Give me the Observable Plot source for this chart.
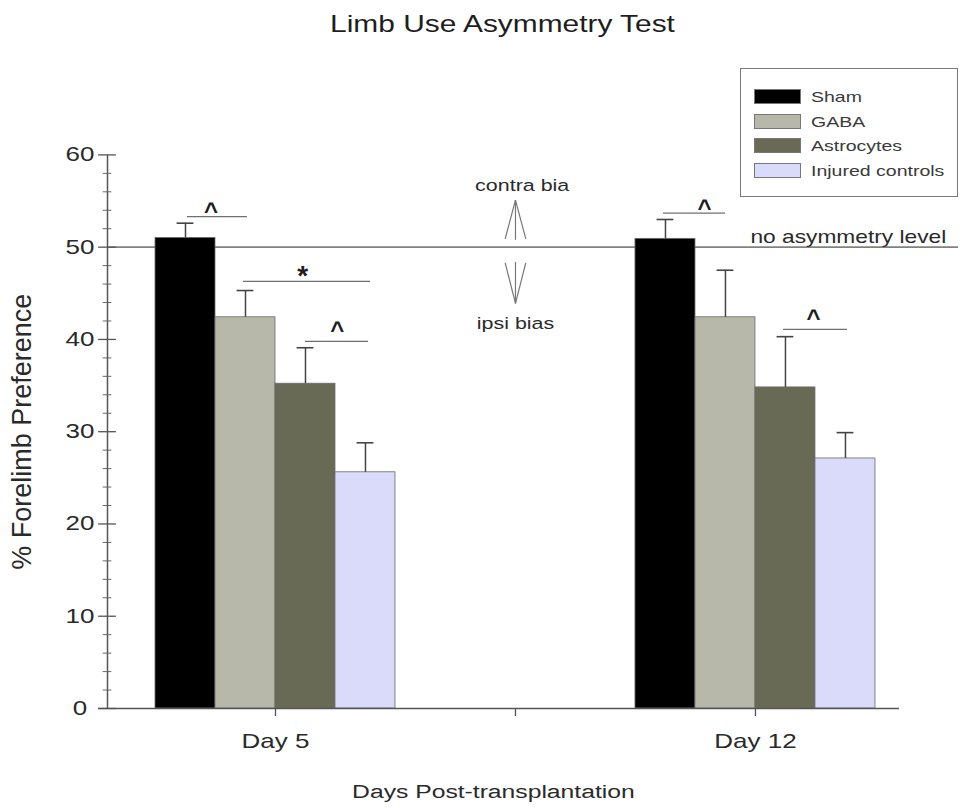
<!DOCTYPE html>
<html><head><meta charset="utf-8">
<script src="https://cdn.jsdelivr.net/npm/d3@7"></script>
<script src="https://cdn.jsdelivr.net/npm/@observablehq/plot@0.6"></script>
<style>
body{margin:0;background:#fff;font-family:"Liberation Sans",Arial,sans-serif;}
#wrap{position:relative;width:961px;height:808px;overflow:hidden;background:#fff}
#legend{position:absolute;left:740px;top:68px;width:218px;height:129px;border:1px solid #7a7a7a;box-sizing:border-box;background:#fff}
.sw{position:absolute;left:13px;width:47px;height:15px;box-sizing:border-box;border:1px solid #777}
.lt{position:absolute;left:70px;font-size:15px;color:#3a3a3a;transform-origin:left center;transform:scaleX(1.3);white-space:nowrap;line-height:15px;height:15px}
</style></head><body><div id="wrap"></div>
<script>
// ---- data ----
const titleText = "Limb Use Asymmetry Test";
const yLabel = "% Forelimb Preference";
const xLabel = "Days Post-transplantation";
const groups = ["Day 5", "Day 12"];
const groupPos = [1, 3];
const series = ["Sham", "GABA", "Astrocytes", "Injured controls"];
const colors = ["#000000", "#b7b7aa", "#696a55", "#dadafa"];
const day5Mean = [51.0, 42.4, 35.2, 25.6];
const day5Err = [1.6, 2.9, 3.9, 3.2];
const day12Mean = [50.9, 42.4, 34.8, 27.1];
const day12Err = [2.1, 5.1, 5.5, 2.8];
const yTicks = [0, 10, 20, 30, 40, 50, 60];
const yMinor = [2, 4, 6, 8, 12, 14, 16, 18, 22, 24, 26, 28, 32, 34, 36, 38, 42, 44, 46, 48, 52, 54, 56, 58];
const xTicks = [1, 2, 3];
const xTickLabels = ["Day 5", "", "Day 12"];
const refLevel = [50];
const refText = ["no asymmetry level"];
const sigLines = [
  {x1: 0.633, x2: 0.883, y: 53.3},
  {x1: 0.867, x2: 1.396, y: 46.3},
  {x1: 1.125, x2: 1.388, y: 39.8},
  {x1: 2.617, x2: 2.875, y: 53.7},
  {x1: 3.117, x2: 3.383, y: 41.1}
];
const sigMarks = [
  {x: 0.731, y: 54.4, t: "^"},
  {x: 1.113, y: 47.6, t: "*"},
  {x: 1.257, y: 41.5, t: "^"},
  {x: 2.788, y: 54.7, t: "^"},
  {x: 3.242, y: 42.8, t: "^"}
];
const biasLabels = [
  {x: 2.028, y: 56.1, t: "contra bia"},
  {x: 2.0, y: 41.15, t: "ipsi bias"}
];
const arrowLinks = [
  {x1: 2.0, y1: 50.8, x2: 2.0, y2: 55.1},
  {x1: 1.957, y1: 50.9, x2: 2.0, y2: 55.1},
  {x1: 2.043, y1: 50.9, x2: 2.0, y2: 55.1},
  {x1: 2.0, y1: 48.4, x2: 2.0, y2: 43.9},
  {x1: 1.957, y1: 48.3, x2: 2.0, y2: 43.9},
  {x1: 2.043, y1: 48.3, x2: 2.0, y2: 43.9}
];

// ---- layout constants ----
const barW = 0.25;
const capHalf = 0.035;
const xStart = 0.3, xAxisEnd = 3.6, xEnd = 3.846;
const majorTick = 0.037, minorTick = 0.018;
const xTickLen = 0.87;
const S = 1.3; // horizontal stretch of text, as in reference

const bars = [];
groups.forEach((g, gi) => {
  const means = gi === 0 ? day5Mean : day12Mean;
  const errs = gi === 0 ? day5Err : day12Err;
  series.forEach((s, si) => {
    const x1 = groupPos[gi] - 2 * barW + si * barW;
    bars.push({group: g, series: s, x1, x2: x1 + barW, center: x1 + barW / 2,
      mean: means[si], top: means[si] + errs[si]});
  });
});

const font = "Liberation Sans, Arial, Helvetica, sans-serif";
const chart = Plot.plot({
  width: 961, height: 808,
  marginTop: 154.4, marginBottom: 100, marginLeft: 107, marginRight: 3,
  x: {type: "linear", domain: [xStart, xEnd], axis: null},
  y: {domain: [0, 60], axis: null},
  color: {domain: series, range: colors},
  style: {fontFamily: font, background: "white", overflow: "visible"},
  marks: [
    Plot.ruleY(refLevel, {stroke: "#808080", strokeWidth: 1.8}),
    Plot.rect(bars, {x1: "x1", x2: "x2", y1: 0, y2: "mean", fill: "series", stroke: "#6a6a6a", strokeWidth: 0.8}),
    Plot.ruleX(bars, {x: "center", y1: "mean", y2: "top", stroke: "#444", strokeWidth: 1.5}),
    Plot.ruleY(bars, {y: "top", x1: d => d.center - capHalf, x2: d => d.center + capHalf, stroke: "#444", strokeWidth: 1.6}),
    // axes
    Plot.ruleX([xStart], {y1: 0, y2: 60, stroke: "#555", strokeWidth: 1.5}),
    Plot.ruleY([0], {x1: xStart - majorTick, x2: xAxisEnd, stroke: "#555", strokeWidth: 1.5}),
    Plot.ruleY(yTicks, {x1: xStart - majorTick, x2: xStart + majorTick, stroke: "#555", strokeWidth: 1.3}),
    Plot.ruleY(yMinor, {x1: xStart - minorTick, x2: xStart + minorTick, stroke: "#666", strokeWidth: 1}),
    Plot.ruleX(xTicks, {y1: 0, y2: -xTickLen, stroke: "#555", strokeWidth: 1.3}),
    Plot.text(yTicks, {x: xStart, y: d => d, text: d => String(d), dx: -27.5, fontSize: 20, fill: "#2a2a2a", textAnchor: "middle"}),
    Plot.text(xTicks, {x: d => d, y: 0, text: (d, i) => xTickLabels[i], dy: 25, lineAnchor: "top", fontSize: 20, fill: "#2a2a2a", textAnchor: "middle"}),
    Plot.text([xLabel], {x: 1.908, y: 0, text: d => d, dy: 83, fontSize: 19, fill: "#2a2a2a", textAnchor: "middle"}),
    Plot.text([yLabel], {frameAnchor: "left", text: d => d, dx: -85, rotate: -90, fontSize: 27, fill: "#2a2a2a", textAnchor: "middle"}),
    Plot.text([titleText], {x: 1.946, y: 60, text: d => d, dy: -123, lineAnchor: "bottom", fontSize: 23, fill: "#1e1e1e", textAnchor: "middle"}),
    // annotations
    Plot.text(refText, {x: 2.979, y: refLevel[0], text: d => d, dy: -4, lineAnchor: "bottom", fontSize: 17.5, fill: "#2a2a2a", textAnchor: "start"}),
    Plot.ruleY(sigLines, {y: "y", x1: "x1", x2: "x2", stroke: "#707070", strokeWidth: 1.2}),
    Plot.text(sigMarks.filter(d => d.t === "^"), {x: "x", y: "y", text: "t", dy: 12, lineAnchor: "bottom", fontSize: 24, fontWeight: "bold", fill: "#1e1e1e", textAnchor: "middle"}),
    Plot.text(sigMarks.filter(d => d.t === "*"), {x: "x", y: "y", text: "t", dy: 16, lineAnchor: "bottom", fontSize: 28, fontWeight: "bold", fill: "#1e1e1e", textAnchor: "middle"}),
    Plot.link(arrowLinks, {x1: "x1", y1: "y1", x2: "x2", y2: "y2", stroke: "#777", strokeWidth: 1.2}),
    Plot.text(biasLabels, {x: "x", y: "y", text: "t", lineAnchor: "bottom", fontSize: 16.5, fill: "#2a2a2a", textAnchor: "middle"})
  ]
});

// horizontal stretch of text (reference image is stretched horizontally)
for (const t of chart.querySelectorAll("text")) {
  const tr = t.getAttribute("transform") || "";
  if (tr.includes("rotate")) continue;
  const txt = t.textContent.trim();
  if (txt === "^" || txt === "*") continue;
  const x = parseFloat(t.getAttribute("x")) || 0;
  const y = parseFloat(t.getAttribute("y")) || 0;
  t.setAttribute("transform", `${tr} translate(${x},${y}) scale(${S},1) translate(${-x},${-y})`);
}

const wrap = document.getElementById("wrap");
wrap.appendChild(chart);

// legend
const legend = document.createElement("div");
legend.id = "legend";
const rowTops = [20, 45, 69, 94];
series.forEach((s, i) => {
  const sw = document.createElement("div");
  sw.className = "sw";
  sw.style.top = rowTops[i] + "px";
  sw.style.background = colors[i];
  legend.appendChild(sw);
  const lt = document.createElement("div");
  lt.className = "lt";
  lt.style.top = rowTops[i] + "px";
  lt.textContent = s;
  legend.appendChild(lt);
});
wrap.appendChild(legend);
</script>
</body></html>
